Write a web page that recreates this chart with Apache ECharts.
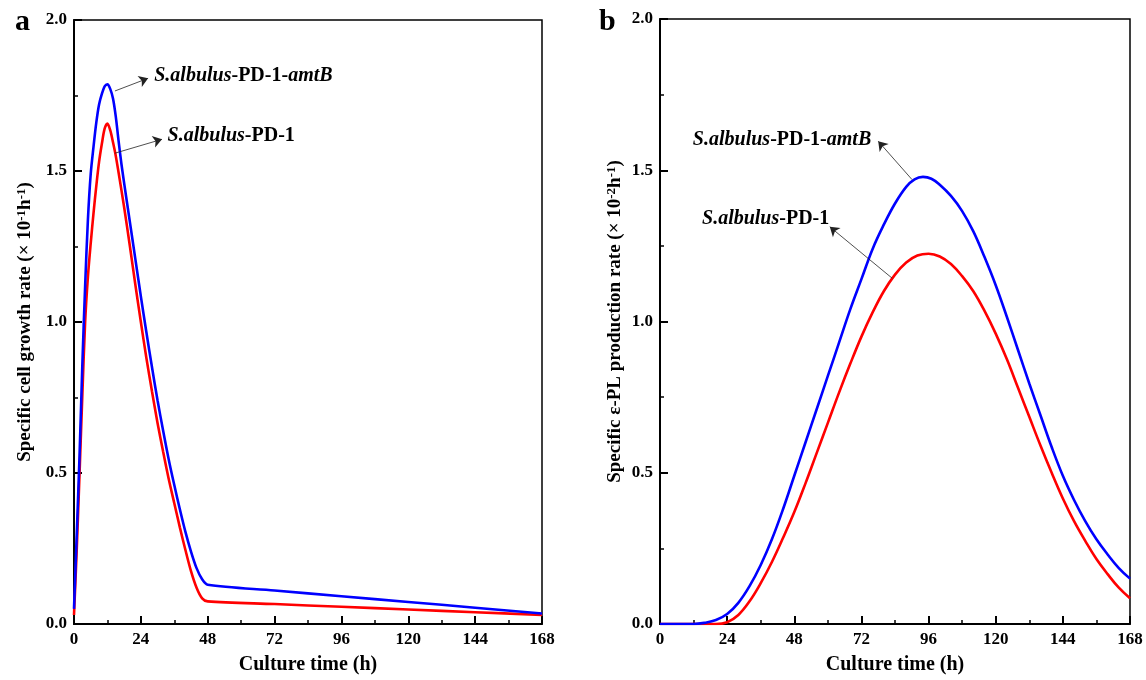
<!DOCTYPE html>
<html>
<head>
<meta charset="utf-8">
<script src="https://cdn.jsdelivr.net/npm/echarts@6/dist/echarts.min.js"></script>
<style>
html,body{margin:0;padding:0;background:#fff;}
#c{width:1146px;height:680px;}
</style>
</head>
<body>
<div id="c"></div>
<script>
// ---- data (culture time h, value) ----
const xTicks = [0, 24, 48, 72, 96, 120, 144, 168];
const yTicks = [0.0, 0.5, 1.0, 1.5, 2.0];

// Panel a: specific cell growth rate (x 10^-1 h^-1)
const growthAmtB = [
  [0,0.05],[1,0.3],[2,0.56],[3,0.86],[4,1.12],[5,1.34],[6,1.49],[7,1.58],[8,1.66],[9,1.72],
  [10,1.755],[11,1.78],[12,1.787],[13,1.772],[14,1.74],[15,1.68],[16,1.6],[17,1.525],[18,1.46],
  [20,1.335],[22,1.21],[24,1.085],[26,0.965],[28,0.85],[30,0.74],[32,0.64],[34,0.545],[36,0.46],
  [38,0.38],[40,0.305],[42,0.24],[44,0.185],[46,0.148],[48,0.13],[72,0.111],
  [96,0.092],[120,0.073],[144,0.054],[168,0.035]
];
const growthPD1 = [
  [0,0.03],[1,0.25],[2,0.5],[3,0.76],[4,1.0],[5,1.15],[6,1.26],[7,1.36],[8,1.45],[9,1.53],
  [10,1.59],[11,1.64],[12,1.657],[13,1.635],[14,1.595],[15,1.55],[16,1.495],[18,1.38],[20,1.255],
  [22,1.125],[24,1.0],[26,0.88],[28,0.77],[30,0.665],[32,0.57],[34,0.48],[36,0.4],[38,0.32],
  [40,0.245],[42,0.175],[44,0.12],[46,0.085],[48,0.075],[72,0.066],[96,0.057],[120,0.048],
  [144,0.039],[168,0.03]
];

// Panel b: specific e-PL production rate (x 10^-2 h^-1)
const prodAmtB = [
  [0,0],[12,0],[16,0.004],[20,0.013],[24,0.033],[28,0.07],[32,0.125],[36,0.195],[40,0.28],
  [44,0.38],[48,0.49],[52,0.6],[56,0.71],[60,0.82],[64,0.93],[68,1.04],[72,1.14],[76,1.24],
  [80,1.32],[84,1.39],[88,1.445],[91,1.47],[94,1.478],[97,1.472],[100,1.452],[104,1.415],
  [108,1.365],[112,1.298],[116,1.213],[120,1.12],[124,1.015],[128,0.905],[132,0.795],[136,0.69],
  [140,0.585],[144,0.49],[148,0.41],[152,0.34],[156,0.28],[160,0.23],[164,0.185],[168,0.15]
];
const prodPD1 = [
  [0,0],[20,0],[24,0.006],[28,0.03],[32,0.075],[36,0.135],[40,0.205],[44,0.285],[48,0.37],
  [52,0.465],[56,0.565],[60,0.665],[64,0.765],[68,0.86],[72,0.95],[76,1.03],[80,1.1],
  [84,1.155],[88,1.195],[92,1.218],[96,1.224],[100,1.215],[104,1.19],[108,1.15],[112,1.1],
  [116,1.035],[120,0.96],[124,0.875],[128,0.78],[132,0.685],[136,0.59],[140,0.5],[144,0.415],
  [148,0.34],[152,0.275],[156,0.215],[160,0.165],[164,0.12],[168,0.085]
];

// annotation anchors in data units: [arrowStart, arrowEnd, labelAnchor]
const annA = {
  amtB: [[14.7,1.765],[26.6,1.807],[28.8,1.814]],
  pd1:  [[14.7,1.559],[31.6,1.605],[33.6,1.618]]
};
const annB = {
  amtB: [[90.1,1.469],[78.0,1.596],[75.5,1.60]],
  pd1:  [[83.0,1.143],[60.7,1.313],[60.5,1.339]]
};

const SERIF = '"Liberation Serif","Times New Roman",serif';
const BLUE = '#0000ff', RED = '#ff0000';

const labelRich = {
  i: {fontFamily: SERIF, fontWeight: 'bold', fontStyle: 'italic', fontSize: 20, color: '#000'},
  b: {fontFamily: SERIF, fontWeight: 'bold', fontSize: 20, color: '#000'}
};

function xAxis(gi) {
  return {
    gridIndex: gi, type: 'value', min: 0, max: 168, interval: 24,
    name: 'Culture time (h)', nameLocation: 'middle', nameGap: 31,
    nameTextStyle: {fontFamily: SERIF, fontWeight: 'bold', fontSize: 20, color: '#000'},
    axisLine: {show: true, onZero: false, lineStyle: {color: '#000', width: 2}},
    axisTick: {show: true, inside: true, length: 8, lineStyle: {color: '#000', width: 2}},
    minorTick: {show: true, splitNumber: 2, length: 4, lineStyle: {color: '#000', width: 1.5}},
    axisLabel: {fontFamily: SERIF, fontWeight: 'bold', fontSize: 17, color: '#000', margin: 7,
      formatter: v => xTicks.includes(v) ? String(v) : ''},
    splitLine: {show: false}
  };
}
function yAxis(gi, name, gap) {
  return {
    gridIndex: gi, type: 'value', min: 0, max: 2, interval: 0.5,
    name: name, nameLocation: 'middle', nameGap: gap,
    nameTextStyle: {
      fontFamily: SERIF, fontWeight: 'bold', fontSize: 19, color: '#000',
      rich: {
        t: {fontFamily: SERIF, fontWeight: 'bold', fontSize: 19, color: '#000'},
        s: {fontFamily: SERIF, fontWeight: 'bold', fontSize: 13, color: '#000', verticalAlign: 'top', padding: [0,0,8,0]}
      }
    },
    axisLine: {show: true, onZero: false, lineStyle: {color: '#000', width: 2}},
    axisTick: {show: true, inside: true, length: 8, lineStyle: {color: '#000', width: 2}},
    minorTick: {show: true, splitNumber: 2, length: 4, lineStyle: {color: '#000', width: 1.5}},
    axisLabel: {fontFamily: SERIF, fontWeight: 'bold', fontSize: 17, color: '#000', margin: 7,
      formatter: v => yTicks.includes(v) ? v.toFixed(1) : ''},
    splitLine: {show: false}
  };
}

function annotate(ann, side) {
  const lines = [], pts = [];
  const defs = [
    [ann.amtB, '{i|S.albulus}{b|-PD-1-}{i|amtB}'],
    [ann.pd1, '{i|S.albulus}{b|-PD-1}']
  ];
  defs.forEach(([a, txt]) => {
    lines.push([{coord: a[0]}, {coord: a[1]}]);
    pts.push({coord: a[2], value: txt,
      label: {show: true, position: side, distance: 0, formatter: txt, rich: labelRich}});
  });
  return {
    markLine: {silent: true, animation: false, symbol: ['none', 'arrow'], symbolSize: 9,
      lineStyle: {color: '#222', width: 0.8, type: 'solid'}, label: {show: false},
      emphasis: {disabled: true}, data: lines},
    markPoint: {silent: true, animation: false, symbol: 'circle', symbolSize: 0,
      itemStyle: {color: 'transparent'}, data: pts}
  };
}

function line(name, data, color, xi, yi, smooth, extra) {
  return Object.assign({
    type: 'line', name: name, data: data, xAxisIndex: xi, yAxisIndex: yi,
    showSymbol: false, smooth: smooth, animation: false, silent: true,
    lineStyle: {color: color, width: 2.6}, itemStyle: {color: color}, z: 3
  }, extra || {});
}

const chart = echarts.init(document.getElementById('c'), null, {renderer: 'canvas'});
chart.setOption({
  backgroundColor: '#fff',
  animation: false,
  title: [
    {text: 'a', left: 10, top: 2, textStyle: {fontFamily: SERIF, fontWeight: 'bold', fontSize: 30, color: '#000'}},
    {text: 'b', left: 594, top: 2, textStyle: {fontFamily: SERIF, fontWeight: 'bold', fontSize: 30, color: '#000'}}
  ],
  grid: [
    {left: 74, right: 604, top: 20, bottom: 48, show: true, borderColor: '#000', borderWidth: 1.5, backgroundColor: 'transparent'},
    {left: 660, right: 16, top: 19, bottom: 47, show: true, borderColor: '#000', borderWidth: 1.5, backgroundColor: 'transparent'}
  ],
  xAxis: [xAxis(0), xAxis(1)],
  yAxis: [
    yAxis(0, '{t|Specific cell growth rate (× 10}{s|-1}{t|h}{s|-1}{t|)}', 38),
    yAxis(1, '{t|Specific ε-PL production rate (× 10}{s|-2}{t|h}{s|-1}{t|)}', 34)
  ],
  series: [
    line('S.albulus-PD-1', growthPD1, RED, 0, 0, 0.3),
    line('S.albulus-PD-1-amtB', growthAmtB, BLUE, 0, 0, 0.3, annotate(annA, 'right')),
    line('S.albulus-PD-1', prodPD1, RED, 1, 1, 0.4),
    line('S.albulus-PD-1-amtB', prodAmtB, BLUE, 1, 1, 0.4, annotate(annB, 'left'))
  ]
});
</script>
</body>
</html>
